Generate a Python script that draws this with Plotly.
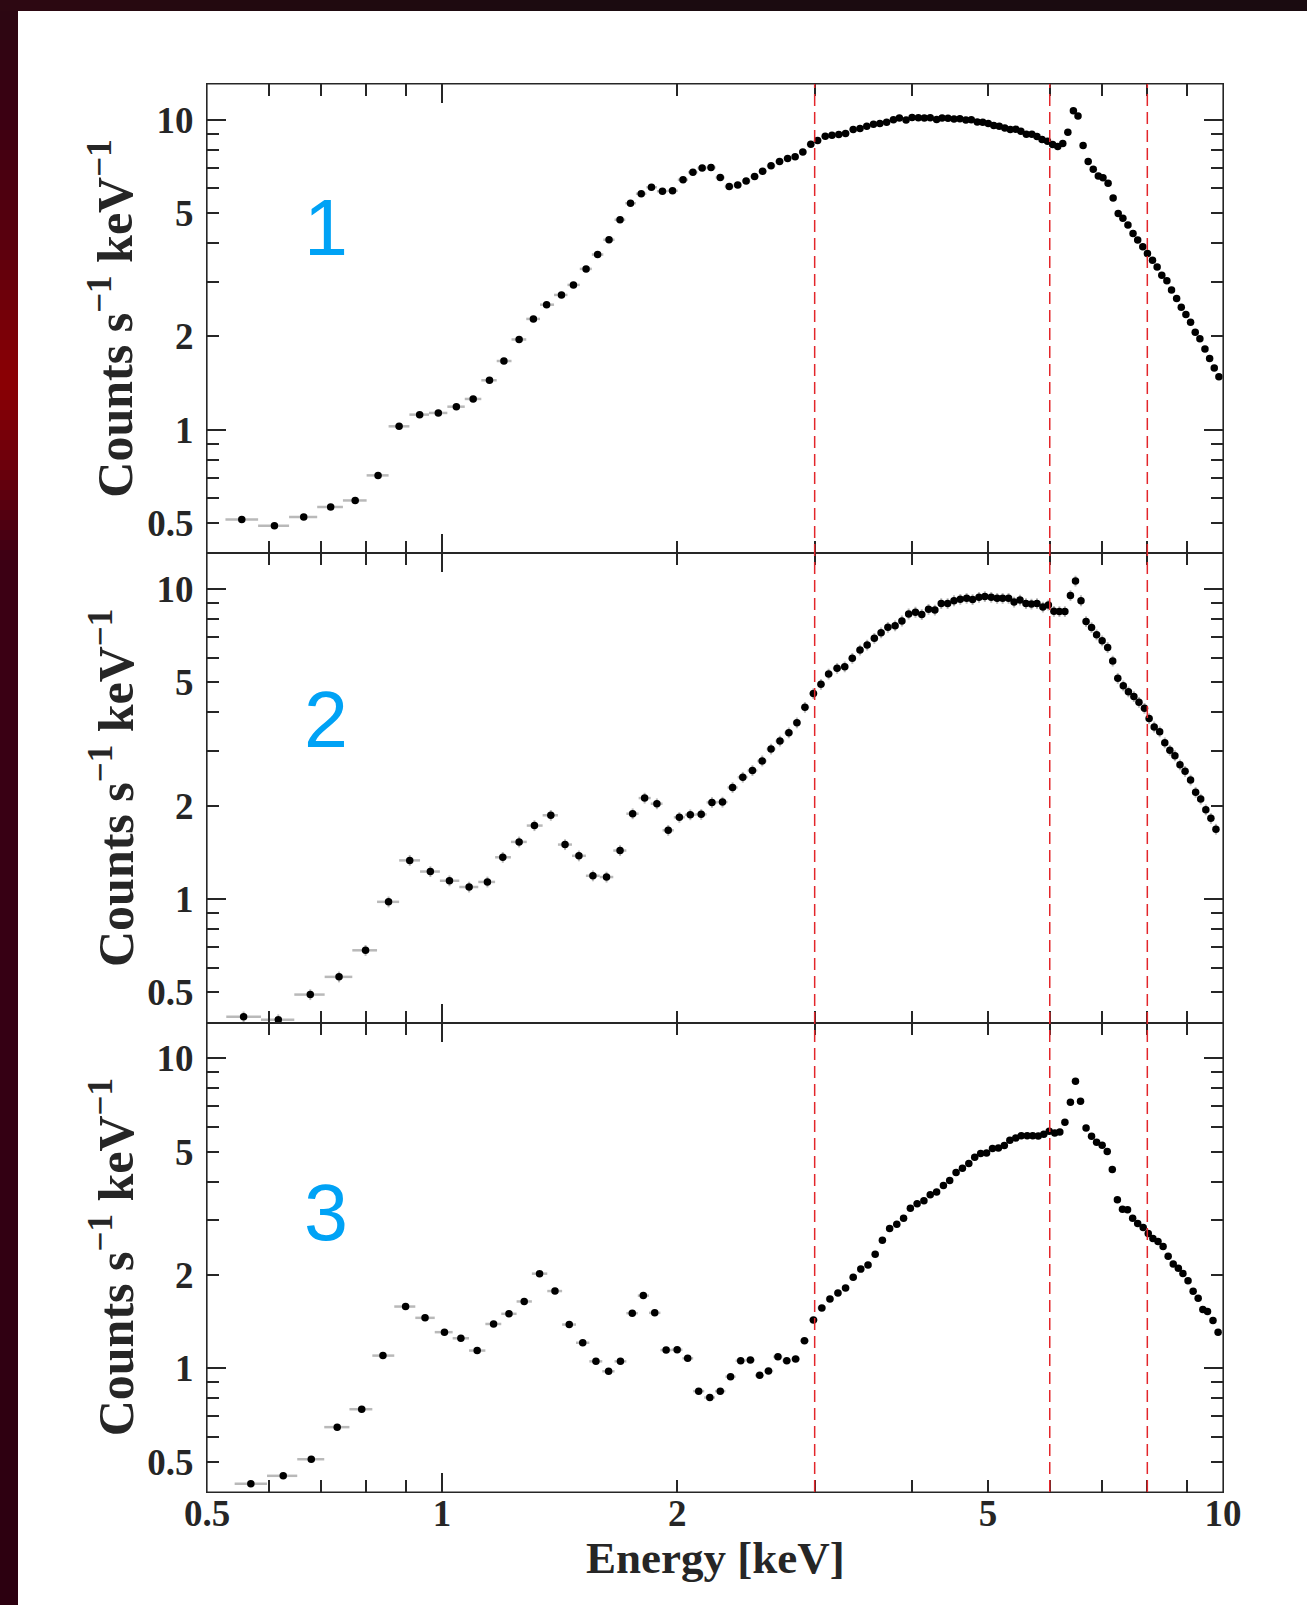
import numpy as np
import plotly.graph_objects as go

# ---------------- spectra: bin energy [keV] and count rate [counts s^-1 keV^-1] ----------------
energy_1 = [
    0.554, 0.610, 0.665, 0.720, 0.774, 0.828, 0.881, 0.936, 0.989, 1.043,
    1.096, 1.150, 1.200, 1.255, 1.309, 1.361,
    1.422, 1.473, 1.529, 1.582, 1.636, 1.690, 1.743, 1.799, 1.854, 1.915,
    1.973, 2.035, 2.095, 2.153, 2.210, 2.271, 2.332, 2.391, 2.451, 2.513,
    2.573, 2.638, 2.705, 2.770, 2.832, 2.897, 2.966, 3.026, 3.095, 3.157,
    3.221, 3.286, 3.361, 3.429, 3.498, 3.568, 3.636, 3.709, 3.784, 3.851,
    3.928, 3.998, 4.073, 4.145, 4.218, 4.298, 4.368, 4.445, 4.524, 4.603,
    4.685, 4.761, 4.845, 4.924, 5.005, 5.087, 5.170, 5.255, 5.341, 5.428,
    5.510, 5.600, 5.692, 5.778, 5.865, 5.961, 6.051, 6.143, 6.235, 6.329,
    6.433, 6.521, 6.620, 6.720, 6.821, 6.924, 7.020, 7.126, 7.233, 7.342,
    7.444, 7.556, 7.670, 7.776, 7.894, 8.003, 8.123, 8.235, 8.349, 8.475,
    8.592, 8.722, 8.842, 8.964, 9.088, 9.214, 9.341, 9.482, 9.613, 9.746, 9.880,
]
rate_1 = [
    0.513, 0.490, 0.523, 0.563, 0.591, 0.712, 1.025, 1.118, 1.132, 1.186,
    1.256, 1.443, 1.665, 1.954, 2.276, 2.530,
    2.72, 2.93, 3.30, 3.67, 4.10, 4.75, 5.37, 5.77, 6.05, 5.88,
    5.90, 6.40, 6.76, 6.98, 7.01, 6.51, 6.09, 6.15, 6.34, 6.56,
    6.81, 7.10, 7.33, 7.49, 7.59, 7.87, 8.33, 8.56, 8.84, 8.91,
    8.95, 9.02, 9.29, 9.36, 9.52, 9.66, 9.71, 9.80, 10.00, 10.12,
    9.98, 10.17, 10.15, 10.12, 10.15, 10.02, 10.12, 10.10, 10.05, 10.07,
    9.98, 10.00, 9.83, 9.80, 9.71, 9.57, 9.52, 9.40, 9.29, 9.31,
    9.17, 8.97, 8.97, 8.82, 8.63, 8.52, 8.31, 8.19, 8.37, 9.11,
    10.69, 10.28, 8.25, 7.33, 6.92, 6.58, 6.50, 6.23, 5.59, 4.98,
    4.81, 4.57, 4.29, 4.09, 3.89, 3.70, 3.52, 3.35, 3.15, 3.02,
    2.82, 2.65, 2.48, 2.35, 2.22, 2.06, 1.965, 1.82, 1.695, 1.58, 1.48,
]

energy_2 = [
    0.557, 0.617, 0.678, 0.738, 0.798, 0.854, 0.909, 0.966, 1.022, 1.083,
    1.143, 1.196, 1.255, 1.313, 1.378,
    1.437, 1.497, 1.560, 1.624, 1.690, 1.754, 1.817, 1.884, 1.948, 2.013,
    2.079, 2.147, 2.216, 2.286, 2.355, 2.427, 2.497, 2.570, 2.638, 2.708,
    2.780, 2.847, 2.915, 2.989, 3.056, 3.126, 3.205, 3.278, 3.352, 3.429,
    3.502, 3.577, 3.649, 3.723, 3.803, 3.880, 3.958, 4.038, 4.114, 4.197,
    4.276, 4.357, 4.440, 4.524, 4.609, 4.696, 4.779, 4.870, 4.955, 5.049,
    5.138, 5.222, 5.314, 5.401, 5.496, 5.593, 5.685, 5.778, 5.880, 5.976,
    6.074, 6.173, 6.274, 6.377, 6.473, 6.579, 6.678, 6.787, 6.889, 7.002,
    7.117, 7.224, 7.333, 7.453, 7.566, 7.689, 7.805, 7.933, 8.043, 8.164,
    8.297, 8.423, 8.550, 8.678, 8.809, 8.942, 9.088, 9.225, 9.364, 9.506,
    9.649, 9.794,
]
rate_2 = [
    0.4166, 0.408, 0.4916, 0.5607, 0.683, 0.979, 1.332, 1.226, 1.145, 1.093,
    1.135, 1.363, 1.528, 1.725, 1.862,
    1.498, 1.378, 1.188, 1.177, 1.433, 1.884, 2.116, 2.029, 1.666, 1.834,
    1.870, 1.875, 2.049, 2.054, 2.289, 2.471, 2.597, 2.789, 3.048, 3.233,
    3.439, 3.703, 4.157, 4.600, 4.930, 5.320, 5.547, 5.616, 5.974, 6.353,
    6.59, 6.93, 7.22, 7.53, 7.61, 7.89, 8.31, 8.42, 8.27, 8.60,
    8.56, 8.97, 8.97, 9.17, 9.26, 9.33, 9.24, 9.40, 9.45, 9.40,
    9.33, 9.33, 9.33, 9.08, 9.22, 8.97, 8.95, 8.97, 8.75, 8.88,
    8.48, 8.46, 8.46, 9.52, 10.61, 9.17, 7.85, 7.51, 7.12, 6.81,
    6.48, 5.86, 5.15, 4.87, 4.66, 4.50, 4.31, 4.12, 3.82, 3.59,
    3.46, 3.19, 3.02, 2.90, 2.71, 2.58, 2.42, 2.21, 2.10, 1.94,
    1.82, 1.68,
]

energy_3 = [
    0.569, 0.626, 0.680, 0.734, 0.789, 0.840, 0.898, 0.951, 1.007, 1.057,
    1.109, 1.164, 1.218, 1.274, 1.333, 1.395,
    1.455, 1.514, 1.574, 1.634, 1.692, 1.752, 1.810, 1.872, 1.936, 2.000,
    2.063, 2.131, 2.202, 2.271, 2.341, 2.412, 2.482, 2.551, 2.618, 2.692,
    2.763, 2.836, 2.911, 2.989, 3.064, 3.138, 3.213, 3.286, 3.361, 3.437,
    3.511, 3.586, 3.663, 3.742, 3.822, 3.899, 3.978, 4.058, 4.140, 4.218,
    4.298, 4.385, 4.467, 4.552, 4.638, 4.726, 4.809, 4.894, 4.980, 5.068,
    5.157, 5.248, 5.334, 5.428, 5.517, 5.614, 5.706, 5.800, 5.895, 5.991,
    6.089, 6.181, 6.274, 6.377, 6.473, 6.570, 6.678, 6.787, 6.889, 7.002,
    7.108, 7.215, 7.324, 7.435, 7.547, 7.661, 7.776, 7.903, 8.022, 8.133,
    8.256, 8.381, 8.507, 8.635, 8.766, 8.886, 9.020, 9.157, 9.294, 9.423,
    9.553, 9.709, 9.856,
]
rate_3 = [
    0.424, 0.450, 0.509, 0.646, 0.738, 1.099, 1.582, 1.455, 1.308, 1.250,
    1.141, 1.390, 1.499, 1.643, 2.020, 1.775,
    1.384, 1.209, 1.053, 0.978, 1.053, 1.506, 1.716, 1.510, 1.145, 1.148,
    1.077, 0.844, 0.805, 0.844, 0.940, 1.058, 1.063, 0.949, 0.980, 1.090,
    1.058, 1.072, 1.227, 1.433, 1.566, 1.674, 1.750, 1.816, 1.965, 2.090,
    2.153, 2.335, 2.590, 2.823, 2.915, 3.048, 3.281, 3.397, 3.472, 3.631,
    3.703, 3.890, 4.036, 4.282, 4.421, 4.576, 4.795, 4.930, 4.954, 5.115,
    5.141, 5.230, 5.440, 5.534, 5.631, 5.631, 5.631, 5.616, 5.686, 5.814,
    5.742, 5.785, 6.216, 7.222, 8.435, 7.276, 5.959, 5.603, 5.360, 5.243,
    5.003, 4.378, 3.499, 3.258, 3.250, 3.048, 2.930, 2.844, 2.721, 2.622,
    2.564, 2.471, 2.300, 2.169, 2.101, 2.024, 1.917, 1.772, 1.682, 1.547,
    1.524, 1.426, 1.308,
]

spectrum_names = ["1", "2", "3"]
band_edges_keV = [3, 6, 8]          # vertical reference energies

tick_values = [0.5, 1, 2, 5, 10]
tick_text = ["0.5", "1", "2", "5", "10"]
minor_tick_values = [0.6, 0.7, 0.8, 0.9, 3, 4, 6, 7, 8, 9]
decade_tick_values = [1, 10]

# ---------------- geometry & style ----------------
W, H = 1307, 1605
ML, MR, MT, MB = 207, 84, 84, 113
PW, PH = W - ML - MR, H - MT - MB

X_RANGE = [np.log10(0.5), 1.0]
Y_RANGE = [-0.399, 1.115]

INK = "#262626"
ERR = "#b9b9b9"
RED = "#e3262b"
BLUE = "#00a2f5"
TICK_FONT = dict(family="Liberation Serif", size=37, color=INK, weight="bold")
TITLE_FONT = dict(family="Liberation Serif", size=50, color=INK, weight="bold")

name_y = [0.695, 0.645, 0.595]      # label heights inside each panel
y_err_pct = [1.5, 4.0, 2.0]


def px_x(px):
    return (px - ML) / PW


def px_y(py):
    return (H - MB - py) / PH


def bin_halfwidths(energy):
    e = np.asarray(energy, dtype=float)
    mids = np.sqrt(e[:-1] * e[1:])
    upper = np.append(mids, e[-1] ** 2 / mids[-1])
    lower = np.insert(mids, 0, e[0] ** 2 / mids[0])
    return upper - e, e - lower


fig = go.Figure()
spectra = [(energy_1, rate_1), (energy_2, rate_2), (energy_3, rate_3)]

layout_axes = {}
for i, (energy, rate) in enumerate(spectra, start=1):
    xa = "x" if i == 1 else f"x{i}"
    ya = "y" if i == 1 else f"y{i}"
    hi, lo = bin_halfwidths(energy)
    fig.add_trace(go.Scatter(
        x=energy, y=rate, mode="markers", xaxis=xa, yaxis=ya,
        marker=dict(color="black", size=7.5, line=dict(width=0)),
        error_x=dict(type="data", symmetric=False, array=hi, arrayminus=lo,
                     color=ERR, thickness=2.5, width=0),
        error_y=dict(type="percent", value=y_err_pct[i - 1],
                     color=ERR, thickness=2, width=0),
        showlegend=False, hoverinfo="x+y",
    ))

    common = dict(
        type="log", ticks="inside", tickwidth=1.5, tickcolor=INK,
        showgrid=False, zeroline=False,
    )
    base = dict(
        common, tickmode="array", tickvals=tick_values, ticktext=tick_text,
        ticklen=12, showline=True, linecolor=INK, linewidth=1.0, mirror="ticks",
        tickfont=TICK_FONT,
        minor=dict(tickmode="array", tickvals=minor_tick_values, ticks="inside",
                   ticklen=12, tickwidth=1.5, tickcolor=INK, showgrid=False),
    )
    xkey = "xaxis" if i == 1 else f"xaxis{i}"
    ykey = "yaxis" if i == 1 else f"yaxis{i}"
    layout_axes[xkey] = dict(base, range=X_RANGE, domain=[0, 1], anchor=ya,
                             showticklabels=(i == 3), ticklabelstandoff=-11)
    layout_axes[ykey] = dict(base, range=Y_RANGE,
                             domain=[(3 - i) / 3, (4 - i) / 3], anchor=xa,
                             ticklabelstandoff=5)

    # longer ticks at the decades, drawn on overlaid axes
    ox, oy = f"x{i + 3}", f"y{i + 3}"
    decade = dict(common, tickmode="array", tickvals=decade_tick_values,
                  ticklen=19, showticklabels=False, showline=False, mirror="ticks")
    layout_axes[f"xaxis{i + 3}"] = dict(decade, range=X_RANGE, overlaying=xa, anchor=ya)
    layout_axes[f"yaxis{i + 3}"] = dict(decade, range=Y_RANGE, overlaying=ya, anchor=xa)
    fig.add_trace(go.Scatter(x=[], y=[], xaxis=ox, yaxis=ya, showlegend=False))
    fig.add_trace(go.Scatter(x=[], y=[], xaxis=xa, yaxis=oy, showlegend=False))

fig.update_layout(**layout_axes)

# ---------------- page background: dark border around the white sheet ----------------
shapes = []


def rect(x0, y0, x1, y1, color, layer="below"):
    shapes.append(dict(type="rect", xref="paper", yref="paper",
                       x0=px_x(x0), x1=px_x(x1), y0=px_y(y1), y1=px_y(y0),
                       fillcolor=color, line=dict(width=0), layer=layer))


def hex_rgb(c):
    c = c.lstrip("#")
    return np.array([int(c[k:k + 2], 16) for k in (0, 2, 4)], dtype=float)


# smooth reddish glow down the left margin
glow_stops = [(0, "#1a0a0f"), (12, "#2c0712"), (120, "#3c0012"), (250, "#5c000d"),
              (380, "#8c0004"), (470, "#6a000c"), (560, "#3c0014"),
              (1000, "#360014"), (1605, "#2c0010")]
stop_y = np.array([s[0] for s in glow_stops], dtype=float)
stop_c = np.array([hex_rgb(s[1]) for s in glow_stops])
step = 10
for y0 in range(0, H, step):
    yc = y0 + step / 2
    rgb = [np.interp(yc, stop_y, stop_c[:, k]) for k in range(3)]
    col = "rgb({:.0f},{:.0f},{:.0f})".format(*rgb)
    rect(0, y0, 18, min(y0 + step + 1, H), col)

# dark strip along the top, faintly red towards the left
top_stops = [(0, "#2e0812"), (250, "#22090f"), (600, "#1b0b10"), (1307, "#1a0b10")]
tx = np.array([s[0] for s in top_stops], dtype=float)
tc = np.array([hex_rgb(s[1]) for s in top_stops])
for x0 in range(0, W, 40):
    xc = x0 + 20
    rgb = [np.interp(xc, tx, tc[:, k]) for k in range(3)]
    col = "rgb({:.0f},{:.0f},{:.0f})".format(*rgb)
    rect(x0, 0, min(x0 + 41, W), 11, col)

# outer frame of the stacked panels
shapes.append(dict(type="rect", xref="paper", yref="paper", x0=0, x1=1, y0=0, y1=1,
                   line=dict(color=INK, width=1.2), fillcolor="rgba(0,0,0,0)", layer="above"))

# vertical dashed reference energies spanning all panels
for e in band_edges_keV:
    shapes.append(dict(type="line", xref="x", yref="paper", x0=e, x1=e, y0=0, y1=1,
                       line=dict(color=RED, width=1.5, dash="12px,6px"), layer="above"))

# ---------------- text ----------------
annotations = []
for i, name in enumerate(spectrum_names, start=1):
    ya = "y" if i == 1 else f"y{i}"
    annotations.append(dict(
        text=name, xref="paper", yref=f"{ya} domain", x=px_x(325.5), y=name_y[i - 1],
        xanchor="center", yanchor="middle", showarrow=False,
        font=dict(family="Liberation Sans", size=79, color=BLUE)))
    annotations.append(dict(
        text="Counts s<sup>−1</sup> keV<sup>−1</sup>", textangle=-90,
        xref="paper", yref=f"{ya} domain", x=px_x(112), y=0.5,
        xanchor="center", yanchor="middle", showarrow=False, font=TITLE_FONT))

annotations.append(dict(
    text="Energy [keV]", xref="paper", yref="paper", x=0.5, y=px_y(1558),
    xanchor="center", yanchor="middle", showarrow=False,
    font=dict(TITLE_FONT, size=45)))

fig.update_layout(
    width=W, height=H, autosize=False,
    margin=dict(l=ML, r=MR, t=MT, b=MB, pad=0),
    paper_bgcolor="white", plot_bgcolor="white",
    shapes=shapes, annotations=annotations, showlegend=False,
)

fig.write_html("out.html")
